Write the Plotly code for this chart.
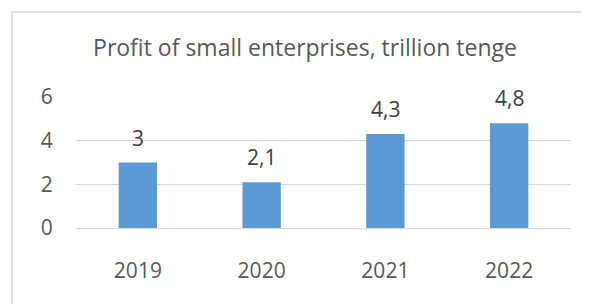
import plotly.graph_objects as go

categories = ["2019", "2020", "2021", "2022"]
values = [3, 2.1, 4.3, 4.8]
labels = ["3", "2,1", "4,3", "4,8"]
y_ticks = [0, 2, 4, 6]

# page body has an 8px default margin; the figure is sized to fill the rest
OFF = 8
W, H = 589 - OFF, 304 - OFF
ML, MR, MT, MB = 76 - OFF, 18, 97 - OFF, 76
pw = W - ML - MR
ph = H - MT - MB

FONT = "Open Sans"
fig = go.Figure()
fig.add_trace(go.Bar(
    x=categories, y=values,
    marker=dict(color="#5B9BD5", line=dict(width=0)),
    width=0.31,
    hoverinfo="skip",
))

for i, (v, t) in enumerate(zip(values, labels)):
    fig.add_annotation(x=i, y=v, text=t, showarrow=False, yanchor="middle",
                       yshift=25, font=dict(family=FONT, size=21, color="#404040"))

# chart border (extends past right and bottom edges)
bx0 = (12 - OFF - ML) / pw
by1 = (H - MB - (12 - OFF)) / ph
fig.add_shape(type="rect", xref="paper", yref="paper",
              x0=bx0, x1=(W + 20 - ML) / pw, y0=-(MB + 20) / ph, y1=by1,
              line=dict(color="#D9D9D9", width=1.5), fillcolor="rgba(0,0,0,0)", layer="below")

fig.update_layout(
    width=W, height=H,
    margin=dict(l=ML, r=MR, t=MT, b=MB, pad=0),
    paper_bgcolor="white", plot_bgcolor="white",
    showlegend=False,
    title=dict(text="Profit of small enterprises, trillion tenge",
               x=(305 - OFF) / W, xanchor="center", xref="container",
               y=1 - (48 - OFF) / H, yanchor="middle", yref="container",
               font=dict(family=FONT, size=23, color="#595959")),
    font=dict(family=FONT, size=21, color="#595959"),
    xaxis=dict(type="category", range=[-0.5, len(categories) - 0.5],
               showline=False, showgrid=False, ticks="outside", ticklen=24,
               tickcolor="rgba(0,0,0,0)", tickfont=dict(size=21, color="#595959"),
               fixedrange=True),
    yaxis=dict(range=[0, 6], tickvals=y_ticks, showgrid=True, gridcolor="#D9D9D9",
               gridwidth=1.3, zeroline=True, zerolinecolor="#D9D9D9", zerolinewidth=1.3,
               ticks="outside", ticklen=18, tickcolor="rgba(0,0,0,0)",
               tickfont=dict(size=21, color="#595959"), fixedrange=True),
    bargap=0.69,
)

fig.write_html("out.html")
